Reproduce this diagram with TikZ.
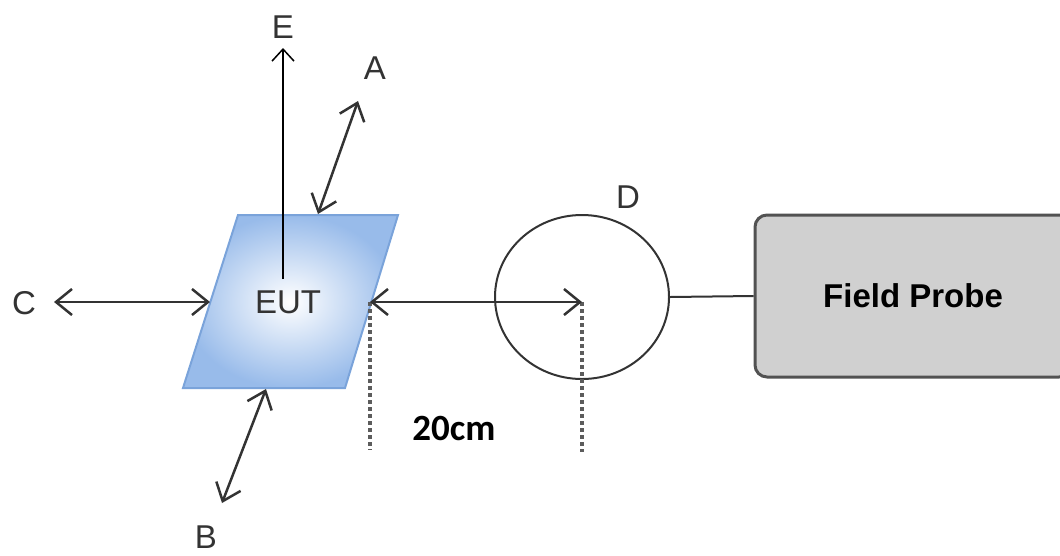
\documentclass[tikz,border=0pt]{standalone}
\usepackage{fontspec}
\setmainfont{Liberation Sans}
\newfontfamily\carlitofont{Carlito}
\usetikzlibrary{arrows.meta,shapes.geometric}
\definecolor{eutblue}{HTML}{98BBEA}
\definecolor{eutedge}{HTML}{7AA3DA}
\definecolor{probegray}{HTML}{D0D0D0}
\definecolor{ink}{HTML}{333333}

\begin{document}
\begin{tikzpicture}[x=1pt, y=-1pt,
      arr/.style={{Straight Barb[length=16pt,width=26pt]}-{Straight Barb[length=16pt,width=26pt]}, line width=2.5pt, ink},
      lbl/.style={font=\fontsize{33}{36}\selectfont, text=ink},
      dimline/.style={line width=3.5pt, ink!80, dash pattern=on 4pt off 3pt}
    ]
      \clip (0,0) rectangle (1060,555);
      \useasboundingbox (0,0) rectangle (1060,555);

      % EUT parallelogram
      \shade[inner color=white, outer color=eutblue, draw=eutedge, line width=2pt]
        (238,215) -- (398,215) -- (345,388) -- (183,388) -- cycle;
      \coordinate (eutW) at (210,302);
      \coordinate (eutE) at (370,302);
      \node[lbl] (eut) at (288,302) {EUT};

      \node[ellipse, draw=ink, line width=2pt, minimum width=174pt, minimum height=164pt] (sensor) at (582,297) {};
      \node[rounded corners=12pt, draw=ink!85, line width=3pt, fill=probegray,
            minimum width=316pt, minimum height=162pt,
            font=\fontsize{33}{36}\selectfont\bfseries] (probe) at (913,296) {Field Probe};

      % labels
      \node[lbl] (lE) at (283,27) {E};
      \node[lbl] (lA) at (375,68) {A};
      \node[lbl] (lC) at (24,303) {C};
      \node[lbl] (lB) at (206,537) {B};
      \node[lbl] (lD) at (628,197) {D};
      \node[font=\fontsize{37}{40}\selectfont\carlitofont\bfseries] (dist) at (454,428) {20cm};

      % free ends
      \coordinate (eBase) at (283,279);
      \coordinate (eTip) at (283,48);
      \coordinate (aIn) at (318,214);
      \coordinate (aOut) at (358,101);
      \coordinate (bIn) at (266,389);
      \coordinate (bOut) at (222,503);
      \coordinate (cOut) at (54,302);
      \coordinate (sensorMid) at (sensor.center |- eutE);
      \coordinate (eutFoot) at (370,450);
      \coordinate (sensorFoot) at (582,452);

      \draw[dimline] (eutE) -- (eutFoot);
      \draw[dimline] (sensorMid) -- (sensorFoot);

      \draw[-{Straight Barb[length=12pt,width=22pt]}, line width=1.5pt] (eBase) -- (eTip);
      \draw[arr] (aIn) -- (aOut);
      \draw[arr] (bIn) -- (bOut);
      \draw[arr] (cOut) -- (eutW);
      \draw[arr] (eutE) -- (sensorMid);
      \draw[line width=2pt, ink] (sensor.east) -- (probe.west);
    \end{tikzpicture}
\end{document}
